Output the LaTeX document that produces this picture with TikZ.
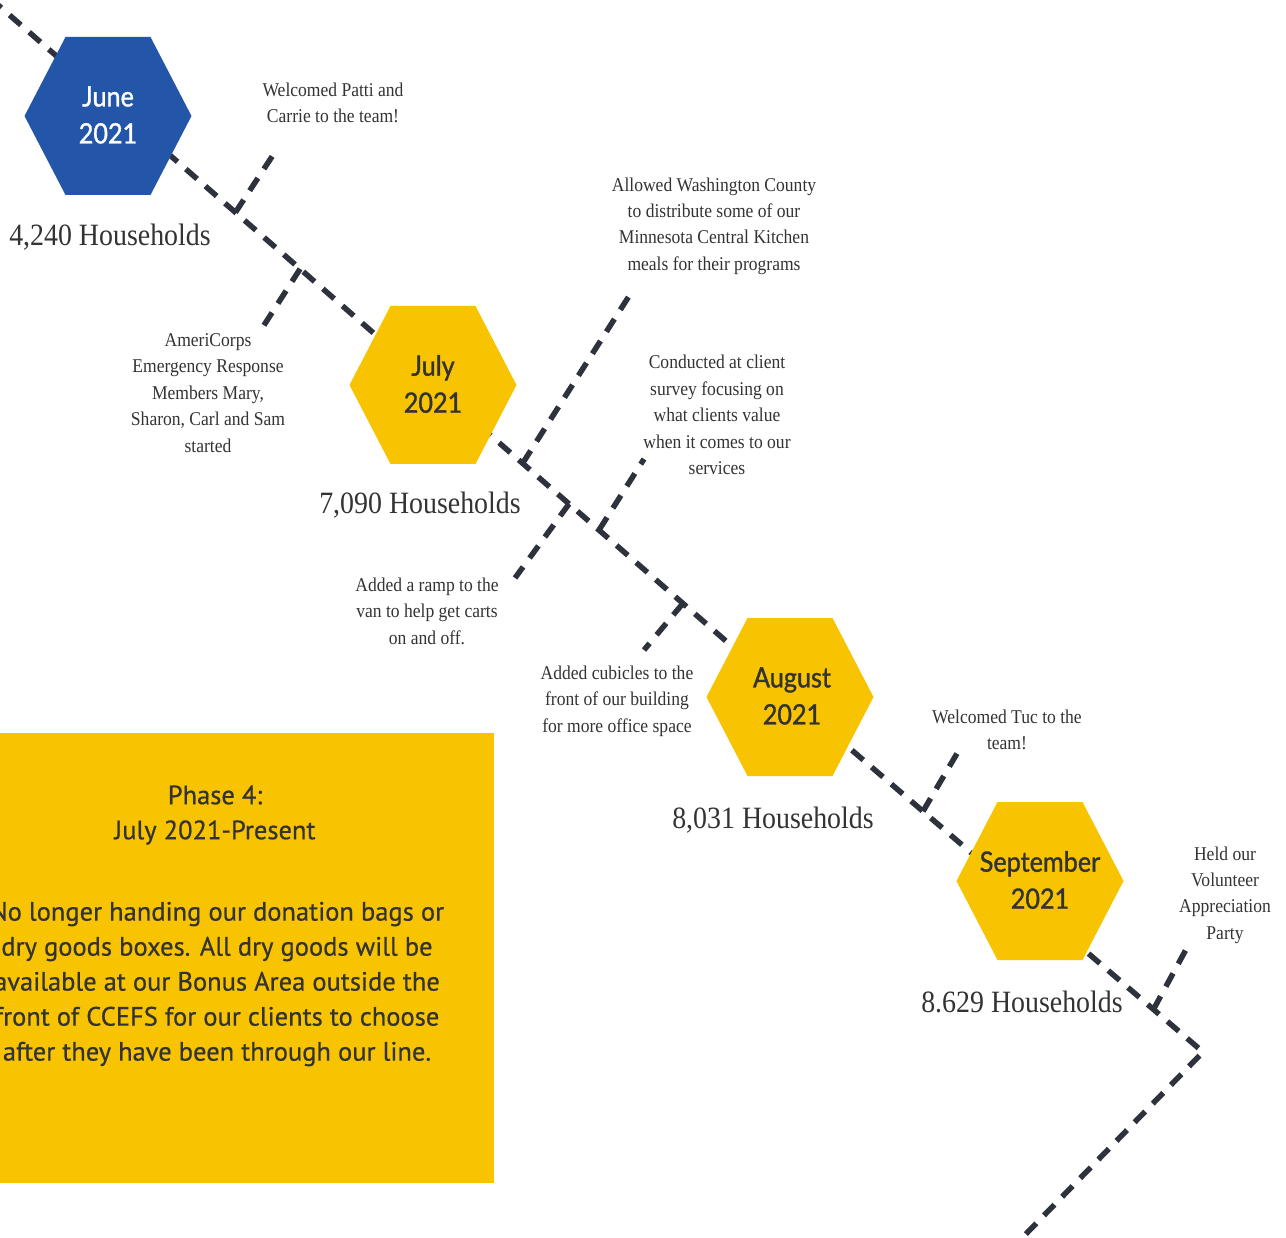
\documentclass[tikz,border=0pt]{standalone}
\usepackage{fontspec}
\usepackage{tikz}
\usetikzlibrary{calc}

\newfontfamily\notefont[FakeStretch=0.9]{Liberation Serif}
\newfontfamily\hexfont[FakeStretch=0.9,FakeBold=1.2]{Lato}
\newfontfamily\boxfont[FakeBold=0.6]{PT Sans}

\definecolor{hexblue}{HTML}{2356A8}
\definecolor{hexgold}{HTML}{F8C300}
\definecolor{dashgray}{HTML}{2E323D}
\definecolor{inkgray}{HTML}{333333}

% flat-topped hexagon round a named centre
\newcommand{\honeycell}[2]{\fill[#2] (#1) ++(-83.5,0) -- ++(41,-79) -- ++(85,0) -- ++(41,79) -- ++(-41,79) -- ++(-85,0) -- cycle;}

\begin{document}
\begin{tikzpicture}[x=1pt,y=-1pt,
    timeline/.style={dashgray, line width=5.5pt, dash pattern=on 15pt off 11pt},
    note/.style={align=center, inner sep=0pt, text=inkgray,
        font=\notefont\fontsize{19.5}{26.4}\selectfont},
    count/.style={inner sep=0pt, text=inkgray,
        font=\notefont\fontsize{31}{36}\selectfont},
    month/.style={align=center, inner sep=0pt,
        font=\hexfont\fontsize{28}{37}\selectfont},
    phasetext/.style={align=center, inner sep=0pt, text=inkgray,
        font=\boxfont\fontsize{26.5}{35}\selectfont}]

    \useasboundingbox (0,0) rectangle (1286,1238);
    \clip (0,0) rectangle (1286,1238);

    % knots of the timeline
    \coordinate (start) at (-10,-2);
    \coordinate (june) at (108,116);
    \coordinate (july) at (433,385);
    \coordinate (aug) at (790,697);
    \coordinate (sep) at (1040,881);
    \coordinate (turn) at (1203,1052);
    \coordinate (finish) at (1022,1238);

    % where the notes branch off
    \coordinate (jpatti) at ($(start)!0.554!(july)$);
    \coordinate (jcorps) at ($(start)!0.70!(july)$);
    \coordinate (jwash) at ($(july)!0.251!(aug)$);
    \coordinate (jramp) at ($(july)!0.381!(aug)$);
    \coordinate (jsurvey) at ($(july)!0.465!(aug)$);
    \coordinate (jcubes) at ($(july)!0.70!(aug)$);
    \coordinate (jtuc) at ($(aug)!0.322!(turn)$);
    \coordinate (jparty) at ($(aug)!0.88!(turn)$);

    % free ends of the branches
    \coordinate (epatti) at (277,149);
    \coordinate (ecorps) at (259,333);
    \coordinate (ewash) at (631,293);
    \coordinate (eramp) at (515,578);
    \coordinate (esurvey) at (644,459);
    \coordinate (ecubes) at (644,650);
    \coordinate (etuc) at (962,745);
    \coordinate (eparty) at (1189,944);

    \draw[timeline] (start) -- (july) -- (aug) -- (turn) -- (finish);
    \draw[timeline] (jpatti) -- (epatti);
    \draw[timeline] (jcorps) -- (ecorps);
    \draw[timeline] (jwash) -- (ewash);
    \draw[timeline] (jramp) -- (eramp);
    \draw[timeline] (jsurvey) -- (esurvey);
    \draw[timeline] (jcubes) -- (ecubes);
    \draw[timeline] (jtuc) -- (etuc);
    \draw[timeline] (jparty) -- (eparty);

    \honeycell{june}{hexblue}
    \honeycell{july}{hexgold}
    \honeycell{aug}{hexgold}
    \honeycell{sep}{hexgold}

    \node[month, text=white] (junetxt) at (108,115) {June\\2021};
    \node[month, text=inkgray] (julytxt) at (433,384) {July\\2021};
    \node[month, text=inkgray] (augtxt) at (792,696) {August\\2021};
    \node[month, text=inkgray] (septxt) at (1040,880) {September\\2021};

    \node[count] (junecount) at (110,237) {4,240 Households};
    \node[count] (julycount) at (420,505) {7,090 Households};
    \node[count] (augcount) at (773,820) {8,031 Households};
    \node[count] (sepcount) at (1022,1002) {8.629 Households};

    \node[note] (patti) at (333,103) {Welcomed Patti and\\Carrie to the team!};
    \node[note] (corps) at (208,393) {AmeriCorps\\Emergency Response\\Members Mary,\\Sharon, Carl and Sam\\started};
    \node[note] (wash) at (714,226) {Allowed Washington County\\to distribute some of our\\Minnesota Central Kitchen\\meals for their programs};
    \node[note] (survey) at (717,415) {Conducted at client\\survey focusing on\\what clients value\\when it comes to our\\services};
    \node[note] (ramp) at (427,611) {Added a ramp to the\\van to help get carts\\on and off.};
    \node[note] (cubes) at (617,701) {Added cubicles to the\\front of our building\\for more office space};
    \node[note] (tuc) at (1007,730) {Welcomed Tuc to the\\team!};
    \node[note] (party) at (1225,895) {Held our\\Volunteer\\Appreciation\\Party};

    % phase box
    \fill[hexgold] (-60,733) rectangle (494,1183);
    \node[phasetext] (phase) at (215,815) {Phase 4:\\July 2021-Present};
    \node[phasetext] (phasebody) at (217,984) {No longer handing our donation bags or\\dry goods boxes. All dry goods will be\\available at our Bonus Area outside the\\front of CCEFS for our clients to choose\\after they have been through our line.};

\end{tikzpicture}
\end{document}
